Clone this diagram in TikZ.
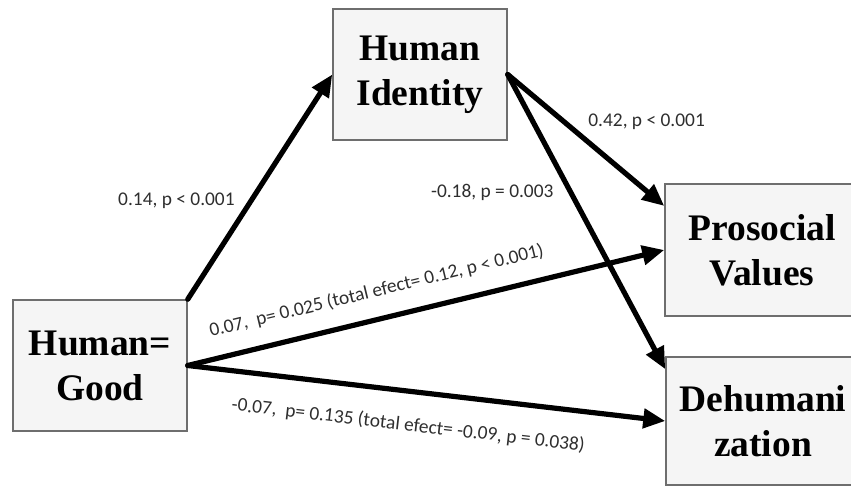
\documentclass[tikz,border=0pt]{standalone}
\usepackage{fontspec}
\setmainfont{Liberation Serif}
\newfontfamily\lblfont{Carlito}
\usetikzlibrary{arrows.meta,calc}
\definecolor{boxfill}{HTML}{F5F5F5}
\definecolor{boxline}{HTML}{6E6E6E}
\definecolor{lblgray}{HTML}{2E2E2E}
\tikzset{
  var/.style={draw=boxline, line width=0.75pt, fill=boxfill, align=center, inner sep=0pt,
    font=\bfseries\fontsize{18.75}{22.5}\selectfont, minimum width=87pt, minimum height=65.5pt},
  effect/.style={line width=2.6pt, -{Triangle[length=11pt,width=9.5pt]}},
  lbl/.style={font=\lblfont\fontsize{9.7}{11}\selectfont, text=lblgray}
}
\begin{document}
\begin{tikzpicture}[x=0.5pt, y=0.5pt, line cap=round]
    \clip (0,0) rectangle (851,487);
    \node[var] (good) at (100,121.5) {Human=\\Good};
    \node[var] (ident) at (420,412.5) {Human\\Identity};
    \node[var, minimum width=97pt, minimum height=66pt] (prosoc) at (762,237) {Prosocial\\Values};
    \node[var, minimum width=97pt, minimum height=64pt] (dehum) at (763,66) {Dehumani\\zation};
    \draw[effect] (good.north east) -- (ident.west) node[lbl, pos=0.44, left=3.7pt] (b1) {0.14, p < 0.001};
    \draw[effect] (ident.east) -- ($(prosoc.north west)!0.17!(prosoc.south west)$) node[lbl, pos=0.36, right=7.5pt] (b2) {0.42, p < 0.001};
    \draw[effect] (ident.east) -- ($(dehum.north west)!0.1!(dehum.south west)$) node[lbl, pos=0.4, left=4pt] (b3) {-0.18, p = 0.003};
    \draw[effect] (good.east) -- (prosoc.west) node[lbl, pos=0.41, sloped, above=5pt] (c1) {0.07,\ \ p= 0.025 (total efect= 0.12, p < 0.001)};
    \draw[effect] (good.east) -- (dehum.west) node[lbl, pos=0.47, sloped, below=8pt] (c2) {-0.07,\ \ p= 0.135 (total efect= -0.09, p = 0.038)};
\end{tikzpicture}
\end{document}
